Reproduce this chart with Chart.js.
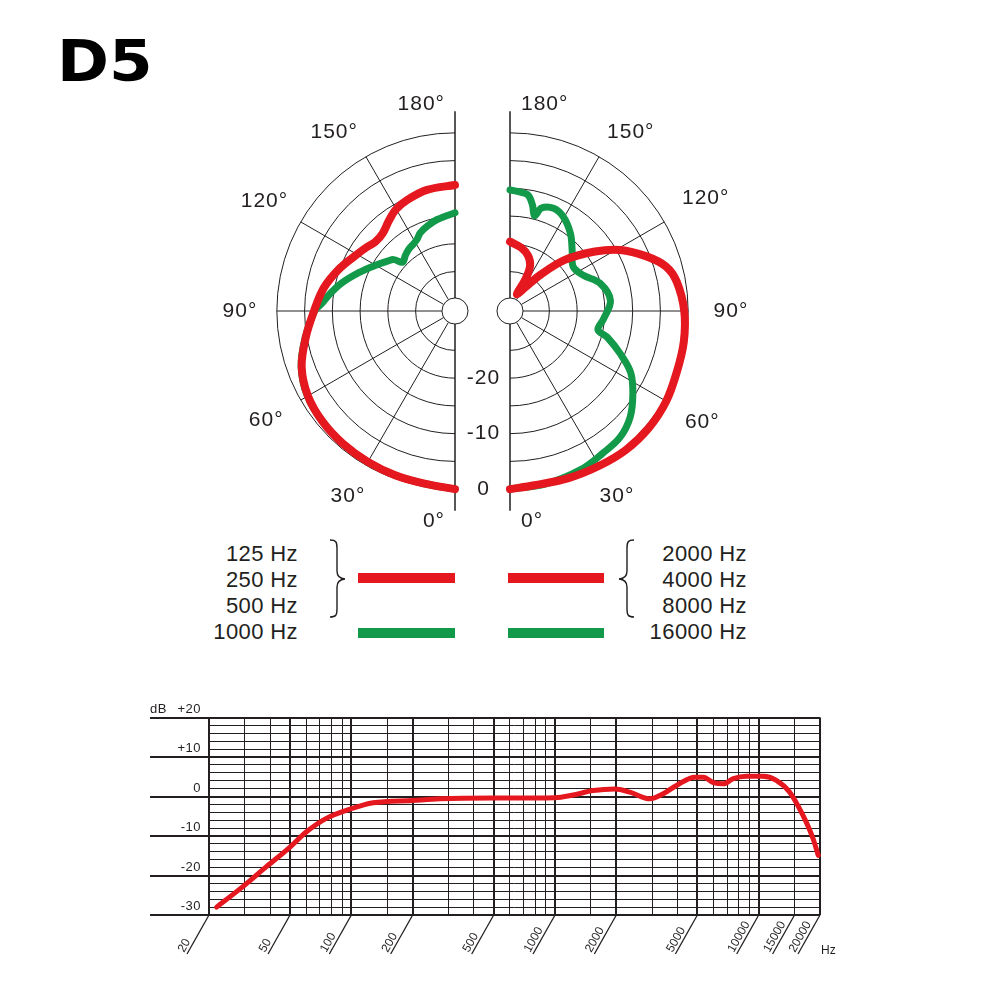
<!DOCTYPE html>
<html>
<head>
<meta charset="utf-8">
<script src="https://cdn.jsdelivr.net/npm/chart.js@4.4.1/dist/chart.umd.min.js"></script>
<style>
html,body{margin:0;padding:0;background:#ffffff;}
#page{position:relative;width:1000px;height:1000px;overflow:hidden;font-family:"Liberation Sans",Arial,sans-serif;color:#231f20;}
#page canvas{position:absolute;}
.txt{position:absolute;white-space:nowrap;}
.bar{position:absolute;}
</style>
</head>
<body>
<div id="page">
  <div class="txt" id="title" style="left:57px;top:33px;font:bold 57px/57px 'DejaVu Sans';color:#000;transform:scaleX(1.1);transform-origin:0 0;">D5</div>
  <canvas id="polar" width="590" height="460" style="left:190px;top:80px;"></canvas>
  <div id="legend"></div>
  <canvas id="freq" width="720" height="300" style="left:130px;top:680px;"></canvas>
</div>
<script>
// ---------------- data ----------------
// Polar patterns: angle (degrees, 0 = front/bottom, 180 = rear/top) and level in dB
const leftRedAngles  = [0,10,20,30,40,50,60,70,80,90,100,110,120,126,131,137,144,150,157,167,180];
const leftRedDb      = [0,-0.5,-0.6,-0.7,-0.8,-1.0,-1.5,-2.7,-4.8,-6.7,-8.1,-9.9,-11.7,-12.5,-13.1,-13.0,-11.9,-10.9,-10.3,-9.7,-9.4];
const leftGreenAngles = [0,10,20,30,40,50,60,70,80,90,93,98,104,112,120,126,130,133,138,143,148,152,156,162,169,180];
const leftGreenDb     = [0,-0.5,-0.6,-0.7,-0.8,-1.0,-1.4,-2.6,-4.7,-6.8,-8.0,-9.4,-11.1,-13.5,-15.6,-16.9,-17.7,-19.2,-18.7,-18.2,-17.9,-17.5,-16.7,-16.0,-15.3,-14.4];
const rightRedAngles = [0,8,19,30,40,50,60,70,80,90,100,106,112,119,125,133,140,147,158,154,156,162,170,180];
const rightRedDb     = [0,-0.4,-0.2,0.1,0.5,0.6,0.4,-0.1,-0.3,-0.7,-1.6,-2.9,-5.7,-9.4,-13.4,-18.6,-23.6,-27.0,-28.8,-25.9,-23.2,-21.6,-20.5,-19.6];
const rightGreenAngles = [0,12,24,33,41,48.5,56,63,69,75,78,85,96,107,116,125,134.5,142,150.5,157,163,165.5,168,171,175,180];
const rightGreenDb     = [0,-0.3,-0.8,-1.5,-1.9,-3.2,-5.4,-7.7,-10.9,-14.0,-15.9,-15.2,-13.9,-15.1,-17.4,-18.2,-16.4,-14.4,-12.6,-12.0,-12.7,-14.4,-12.6,-11.0,-10.6,-10.3];

const polarRings = [-25,-20,-15,-10,-5,0];
const polarSpokes = [30,60,90,120,150];
const ringLabelValues = [-20,-10,0];
const ringLabels = ['-20','-10','0'];
const angleLabelValues = [30,60,90,120,150];
const angleLabels = ['30°','60°','90°','120°','150°'];

const legendLow = ['125 Hz','250 Hz','500 Hz'];
const legendLowAlt = '1000 Hz';
const legendHigh = ['2000 Hz','4000 Hz','8000 Hz'];
const legendHighAlt = '16000 Hz';

// Frequency response
const freqHz = [21.8,28.4,38.4,50,60,75,100,128,200,272,500,1000,1230,1540,1970,2330,2930,3400,3950,4860,5350,5990,6700,7500,8730,10500,12200,14200,16500,18500,19600];
const freqDb = [-28.0,-23.4,-17.7,-12.8,-9.0,-5.6,-3.1,-1.6,-1.0,-0.6,-0.4,-0.3,0.4,1.5,1.9,1.1,-0.6,0.7,2.8,4.9,4.9,3.5,3.2,4.5,5.1,5.1,4.1,1.1,-4.8,-10.7,-14.9];
const freqTickValues = [20,50,100,200,500,1000,2000,5000,10000,15000,20000];
const freqTickLabels = ['20','50','100','200','500','1000','2000','5000','10000','15000','20000'];
const freqGrid = [20,30,40,50,60,70,80,90,100,150,200,300,400,500,600,700,800,900,1000,1500,2000,3000,4000,5000,6000,7000,8000,9000,10000,15000,20000];
const freqMajor = [20,50,100,200,500,1000,2000,5000,10000,20000];
const dbTickValues = [20,10,0,-10,-20,-30];
const dbTickLabels = ['+20','+10','0','-10','-20','-30'];

// ---------------- styles / layout ----------------
const INK = '#231f20';
const RED = '#e5171f';
const GREEN = '#12994a';
const PX = 5.55;            // pixels per dB on the polar plots
const DB_MIN = -32.1;       // dB at the polar centre
const HOLE_DB = -29.75;
const AXIS_DB = 3.9;
const CX_L = 0, CX_R = 55 / PX;
const POLAR_W = 590, POLAR_H = 460, POLAR_OX = 265, POLAR_OY = 231;
const LABEL_POS_ANGLE = [30, 60, 90, 120, 146];
const LABEL_R_LEFT = [214, 218, 215, 220, 216];
const LABEL_R_RIGHT = [214, 222, 221, 226, 216];

// ---------------- legend (HTML) ----------------
(function(){
  const lg = document.getElementById('legend');
  const mk = (html, style, cls) => { const d = document.createElement('div'); d.className = cls || 'txt'; d.style.cssText = style; d.innerHTML = html; lg.appendChild(d); return d; };
  const font = 'font-size:22px;line-height:26px;letter-spacing:0.4px;';
  mk(legendLow.concat([legendLowAlt]).join('<br>'), 'right:702px;top:541px;text-align:right;' + font);
  mk(legendHigh.concat([legendHighAlt]).join('<br>'), 'right:253px;top:541px;text-align:right;' + font);
  mk('', 'left:358px;top:573px;width:97px;height:10px;background:' + RED, 'bar');
  mk('', 'left:358px;top:628px;width:97px;height:10px;background:' + GREEN, 'bar');
  mk('', 'left:508px;top:573px;width:96px;height:10px;background:' + RED, 'bar');
  mk('', 'left:508px;top:628px;width:96px;height:10px;background:' + GREEN, 'bar');
  const svg = (left, d) => mk('<svg width="17" height="79" viewBox="0 0 17 79"><path d="' + d + '" fill="none" stroke="' + INK + '" stroke-width="1.4"/></svg>', 'left:' + left + 'px;top:539px;width:17px;height:79px;', 'bar');
  svg(329, 'M1,1 C7,1 8,3 8,9 L8,32 C8,37 10,39.5 16,40 C10,40.5 8,43 8,48 L8,70 C8,76 7,78 1,78');
  svg(618, 'M16,1 C10,1 9,3 9,9 L9,32 C9,37 7,39.5 1,40 C7,40.5 9,43 9,48 L9,70 C9,76 10,78 16,78');
})();

// ---------------- polar chart ----------------
function toXY(angles, dbs, cx, side){
  return angles.map((a,i) => {
    const t = a * Math.PI / 180, r = dbs[i] - DB_MIN;
    return {x: cx + side * r * Math.sin(t), y: -r * Math.cos(t)};
  });
}

const polarGrid = {
  id: 'polarGrid',
  beforeDatasetsDraw(chart){
    const {ctx, scales:{x, y}} = chart;
    ctx.save();
    ctx.strokeStyle = INK;
    [{cx:CX_L, s:-1},{cx:CX_R, s:1}].forEach(h => {
      const px = x.getPixelForValue(h.cx), py = y.getPixelForValue(0);
      const rp = db => x.getPixelForValue(h.cx + (db - DB_MIN)) - px;
      ctx.lineWidth = 1;
      polarRings.forEach(db => {
        ctx.beginPath();
        if (h.s < 0) ctx.arc(px, py, rp(db), Math.PI/2, Math.PI*1.5);
        else ctx.arc(px, py, rp(db), -Math.PI/2, Math.PI/2);
        ctx.stroke();
      });
      const r0 = rp(HOLE_DB), r1 = rp(0);
      polarSpokes.forEach(a => {
        const t = a * Math.PI / 180;
        ctx.beginPath();
        ctx.moveTo(px + h.s*r0*Math.sin(t), py + r0*Math.cos(t));
        ctx.lineTo(px + h.s*r1*Math.sin(t), py + r1*Math.cos(t));
        ctx.stroke();
      });
      const re = rp(AXIS_DB);
      ctx.lineWidth = 1.5;
      ctx.beginPath();
      ctx.moveTo(px, py - re); ctx.lineTo(px, py - r0);
      ctx.moveTo(px, py + r0); ctx.lineTo(px, py + re);
      ctx.stroke();
      ctx.beginPath();
      ctx.arc(px, py, r0, 0, Math.PI*2);
      ctx.fillStyle = '#ffffff'; ctx.fill();
      ctx.lineWidth = 1; ctx.stroke();
    });
    ctx.restore();
  },
  afterDraw(chart){
    const {ctx, scales:{x, y}} = chart;
    ctx.save();
    ctx.fillStyle = INK;
    ctx.font = '21px "Liberation Sans", Arial, sans-serif';
    ctx.letterSpacing = '1px';
    ctx.textBaseline = 'middle';
    const pxL = x.getPixelForValue(CX_L), pxR = x.getPixelForValue(CX_R), py = y.getPixelForValue(0);
    const unit = x.getPixelForValue(1) - x.getPixelForValue(0);
    [{px:pxL, s:-1, r:LABEL_R_LEFT},{px:pxR, s:1, r:LABEL_R_RIGHT}].forEach(h => {
      ctx.textAlign = 'center';
      angleLabelValues.forEach((a,i) => {
        const t = LABEL_POS_ANGLE[i] * Math.PI / 180;
        ctx.fillText(angleLabels[i], h.px + h.s*h.r[i]*Math.sin(t), py + h.r[i]*Math.cos(t));
      });
      ctx.textAlign = h.s < 0 ? 'right' : 'left';
      const ox = h.s < 0 ? -10 : 11;
      ctx.fillText('0°', h.px + ox, py + 210);
      ctx.fillText('180°', h.px + ox, py - 207);
    });
    ctx.textAlign = 'center';
    ringLabelValues.forEach((v,i) => {
      ctx.fillText(ringLabels[i], (pxL + pxR)/2 + 1, py + (v - DB_MIN) * unit);
    });
    ctx.restore();
  }
};

const lineStyle = {showLine:true, pointRadius:0, pointHoverRadius:0, fill:false, tension:0.35, borderCapStyle:'round', borderJoinStyle:'round', clip:false};
new Chart(document.getElementById('polar'), {
  type: 'scatter',
  data: {datasets: [
    Object.assign({label:'125 / 250 / 500 Hz', data: toXY(leftRedAngles, leftRedDb, CX_L, -1), borderColor: RED, borderWidth: 8, order: 0}, lineStyle),
    Object.assign({label:'2000 / 4000 / 8000 Hz', data: toXY(rightRedAngles, rightRedDb, CX_R, 1), borderColor: RED, borderWidth: 8, order: 1}, lineStyle),
    Object.assign({label:'1000 Hz', data: toXY(leftGreenAngles, leftGreenDb, CX_L, -1), borderColor: GREEN, borderWidth: 7, order: 2}, lineStyle),
    Object.assign({label:'16000 Hz', data: toXY(rightGreenAngles, rightGreenDb, CX_R, 1), borderColor: GREEN, borderWidth: 7, order: 3}, lineStyle)
  ]},
  options: {
    responsive: false, animation: false, devicePixelRatio: 1, events: [],
    layout: {padding: 0},
    scales: {
      x: {type:'linear', display:false, min: -POLAR_OX/PX, max: (POLAR_W - POLAR_OX)/PX},
      y: {type:'linear', display:false, min: -(POLAR_H - POLAR_OY)/PX, max: POLAR_OY/PX}
    },
    plugins: {legend:{display:false}, tooltip:{enabled:false}}
  },
  plugins: [polarGrid]
});

// ---------------- frequency response chart ----------------
const dbGrid = [];
for (let v = -30; v <= 20; v += 2) dbGrid.push(v);

const freqDecor = {
  id: 'freqDecor',
  afterDraw(chart){
    const {ctx, chartArea:a, scales:{x, y}} = chart;
    ctx.save();
    ctx.strokeStyle = INK; ctx.fillStyle = INK;
    ctx.lineWidth = 2;
    dbTickValues.forEach(v => {
      const py = Math.round(y.getPixelForValue(v));
      ctx.beginPath(); ctx.moveTo(a.left - 59, py); ctx.lineTo(a.left, py); ctx.stroke();
    });
    ctx.font = '13px "Liberation Sans", Arial, sans-serif';
    ctx.letterSpacing = '0.5px';
    ctx.textBaseline = 'alphabetic';
    ctx.textAlign = 'right';
    dbTickValues.forEach((v,i) => ctx.fillText(dbTickLabels[i], a.left - 8, y.getPixelForValue(v) - 5));
    ctx.textAlign = 'left';
    ctx.fillText('dB', a.left - 59, y.getPixelForValue(20) - 5);
    ctx.font = '12px "Liberation Sans", Arial, sans-serif';
    ctx.letterSpacing = '0px';
    ctx.lineWidth = 1.3;
    const ang = 60.8 * Math.PI / 180;
    freqTickValues.forEach((f,i) => {
      const px = x.getPixelForValue(f);
      ctx.beginPath(); ctx.moveTo(px, a.bottom); ctx.lineTo(px - 22, a.bottom + 39); ctx.stroke();
      ctx.save();
      ctx.translate(px - 25, a.bottom + 38);
      ctx.rotate(-ang);
      ctx.textAlign = 'left';
      ctx.fillText(freqTickLabels[i], 0, 0);
      ctx.restore();
    });
    ctx.fillText('Hz', a.right + 1, a.bottom + 39);
    ctx.restore();
  }
};

new Chart(document.getElementById('freq'), {
  type: 'line',
  data: {datasets: [{
    label: 'Frequency response',
    data: freqHz.map((f,i) => ({x: f, y: freqDb[i]})),
    borderColor: RED, borderWidth: 5, pointRadius: 0, pointHoverRadius: 0,
    fill: false, cubicInterpolationMode: 'monotone', borderCapStyle: 'round', clip: false
  }]},
  options: {
    responsive: false, animation: false, devicePixelRatio: 1, events: [],
    layout: {padding: {left: 79, right: 30, top: 37.5, bottom: 65}},
    scales: {
      x: {
        type: 'logarithmic', min: 20, max: 20000,
        border: {display: false},
        ticks: {display: false},
        grid: {drawTicks: false, color: INK, lineWidth: c => (c.tick && freqMajor.includes(c.tick.value)) ? 2 : 1},
        afterBuildTicks: s => { s.ticks = freqGrid.map(v => ({value: v})); }
      },
      y: {
        type: 'linear', min: -30, max: 20,
        border: {display: false},
        ticks: {display: false, stepSize: 2},
        grid: {drawTicks: false, color: INK, lineWidth: c => (c.tick && c.tick.value % 10 === 0) ? 2 : 1},
        afterBuildTicks: s => { s.ticks = dbGrid.map(v => ({value: v})); }
      }
    },
    plugins: {legend: {display: false}, tooltip: {enabled: false}}
  },
  plugins: [freqDecor]
});
</script>
</body>
</html>
